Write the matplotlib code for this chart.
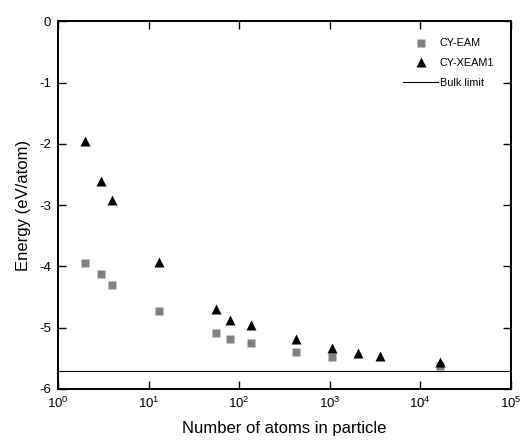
import numpy as np
import matplotlib.pyplot as plt
from matplotlib.ticker import FixedLocator, NullLocator

plt.rcParams['font.family'] = ['Liberation Sans', 'DejaVu Sans']
plt.rcParams['mathtext.fontset'] = 'custom'
plt.rcParams['mathtext.rm'] = 'Liberation Sans'
plt.rcParams['mathtext.it'] = 'Liberation Sans'

# cluster sizes and energies
n_eam = [2, 3, 4, 13, 55, 79, 135, 429, 1055, 16727]
e_eam = [-3.94, -4.13, -4.31, -4.73, -5.09, -5.18, -5.25, -5.39, -5.48, -5.63]

n_xeam = [2, 3, 4, 13, 55, 79, 135, 429, 1055, 2057, 3565, 16727]
e_xeam = [-1.95, -2.60, -2.92, -3.92, -4.69, -4.87, -4.95, -5.19, -5.33, -5.41, -5.46, -5.56]

bulk = -5.71

fig = plt.figure(figsize=(5.21, 4.43), dpi=100)
ax = fig.add_axes([0.1113, 0.1219, 0.8689, 0.8300])

ax.plot(n_eam, e_eam, 's', color='#808080', ms=5.3, mec='none', label='CY-EAM')
ax.plot(n_xeam, e_xeam, '^', color='black', ms=7, mec='none', label='CY-XEAM1')
ax.axhline(bulk, color='black', lw=0.8, label='Bulk limit')

ax.set_xscale('log')
ax.set_xlim(1, 1e5)
ax.set_ylim(-6, 0)
ax.xaxis.set_major_locator(FixedLocator([1e0, 1e1, 1e2, 1e3, 1e4, 1e5]))
ax.xaxis.set_minor_locator(NullLocator())
ax.set_xticklabels([r'$10^{%d}$' % i for i in range(6)])
ax.set_yticks([0, -1, -2, -3, -4, -5, -6])
ax.set_yticklabels(['0', '-1', '-2', '-3', '-4', '-5', '-6'])

ax.tick_params(direction='in', length=6, width=1, top=True, right=True,
               labelsize=9.5, pad=5)
for s in ax.spines.values():
    s.set_linewidth(1.4)

ax.set_xlabel('Number of atoms in particle', fontsize=12, labelpad=7)
ax.set_ylabel('Energy (eV/atom)', fontsize=12, labelpad=6)

ax.legend(loc='upper right', frameon=False, fontsize=7.8, handlelength=3.2,
          handletextpad=0.15, labelspacing=0.9, bbox_to_anchor=(0.985, 0.98))

fig.savefig('out.png', dpi=100)
